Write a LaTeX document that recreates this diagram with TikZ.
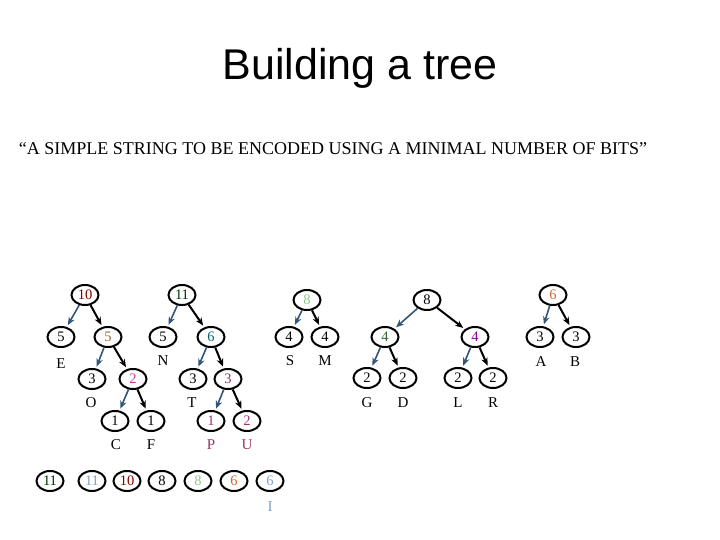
\documentclass[tikz,border=0pt]{standalone}
\usepackage{fontspec}
\setmainfont{Liberation Serif}
\newfontfamily\titlefont{Liberation Sans}
\usetikzlibrary{arrows.meta,shapes.geometric}

\definecolor{cDarkRed}{RGB}{128,0,0}
\definecolor{cOlive}{RGB}{153,102,51}
\definecolor{cPink}{RGB}{204,51,153}
\definecolor{cDarkGreen}{RGB}{0,51,0}
\definecolor{cTeal}{RGB}{0,102,102}
\definecolor{cPurple}{RGB}{153,51,102}
\definecolor{cLightGreen}{RGB}{140,200,140}
\definecolor{cGreen}{RGB}{51,102,51}
\definecolor{cMagenta}{RGB}{153,0,153}
\definecolor{cBrown}{RGB}{204,102,51}
\definecolor{cLightBlue}{RGB}{128,160,200}
\definecolor{cArrow}{RGB}{51,85,119}

\begin{document}
\begin{tikzpicture}[x=1pt,y=-1pt,
    cnt/.style={ellipse,draw,line width=2pt,minimum width=27pt,minimum height=20pt,inner sep=0pt,font=\fontsize{14.5}{14.5}\selectfont},
    sym/.style={font=\fontsize{15}{15}\selectfont},
    lft/.style={-{Stealth[length=8pt,width=6.5pt]},line width=1.6pt,draw=cArrow,fill=cArrow,shorten >=2pt},
    rgt/.style={-{Stealth[length=8pt,width=6.5pt]},line width=2pt,shorten >=2pt}]
  \useasboundingbox (0,0) rectangle (720,540);

  % Heading
  \node[font=\titlefont\fontsize{43}{43}\selectfont] (title) at (360,68) {Building a tree};
  \node[font=\fontsize{18}{18}\selectfont] (phrase) at (333,149) {``A SIMPLE STRING TO BE ENCODED USING A MINIMAL NUMBER OF BITS''};

  % Tree 10
  \node[cnt,text=cDarkRed] (r10) at (85,295) {10};
  \node[cnt] (e5) at (61,337) {5};
  \node[cnt,text=cOlive] (s5) at (108,337) {5};
  \node[cnt] (o3) at (92,379) {3};
  \node[cnt,text=cPink] (s2) at (133,379) {2};
  \node[cnt] (c1) at (115,421) {1};
  \node[cnt] (f1) at (151,421) {1};
  \node[sym] (le) at (61,364) {E};
  \node[sym] (lo) at (91,403) {O};
  \node[sym] (lc) at (116,445) {C};
  \node[sym] (lf) at (151,445) {F};
  \draw[lft] (r10) -- (e5);
  \draw[rgt] (r10) -- (s5);
  \draw[lft] (s5) -- (o3);
  \draw[rgt] (s5) -- (s2);
  \draw[lft] (s2) -- (c1);
  \draw[rgt] (s2) -- (f1);

  % Tree 11
  \node[cnt,text=cDarkGreen] (r11) at (182,295) {11};
  \node[cnt] (n5) at (163,337) {5};
  \node[cnt,text=cTeal] (s6) at (211,337) {6};
  \node[cnt] (t3) at (193,379) {3};
  \node[cnt,text=cPurple] (s3) at (228,379) {3};
  \node[cnt,text=cPurple] (p1) at (211,421) {1};
  \node[cnt,text=cPurple] (u2) at (247,421) {2};
  \node[sym] (ln) at (163,361) {N};
  \node[sym] (lt) at (192,403) {T};
  \node[sym,text=cPurple] (lp) at (211,445) {P};
  \node[sym,text=cPurple] (lu) at (247,445) {U};
  \draw[lft] (r11) -- (n5);
  \draw[rgt] (r11) -- (s6);
  \draw[lft] (s6) -- (t3);
  \draw[rgt] (s6) -- (s3);
  \draw[lft] (s3) -- (p1);
  \draw[rgt] (s3) -- (u2);

  % Tree 8 (S, M)
  \node[cnt,text=cLightGreen] (r8a) at (307,300) {8};
  \node[cnt] (s4) at (289,337) {4};
  \node[cnt] (m4) at (325,337) {4};
  \node[sym] (ls) at (290,361) {S};
  \node[sym] (lm) at (325,361) {M};
  \draw[lft] (r8a) -- (s4);
  \draw[rgt] (r8a) -- (m4);

  % Tree 8 (G, D, L, R)
  \node[cnt] (r8b) at (427,300) {8};
  \node[cnt,text=cGreen] (g4) at (385,337) {4};
  \node[cnt,text=cMagenta] (m4b) at (475,337) {4};
  \node[cnt] (g2) at (367,378) {2};
  \node[cnt] (d2) at (403,378) {2};
  \node[cnt] (l2) at (458,378) {2};
  \node[cnt] (r2) at (493,378) {2};
  \node[sym] (lg) at (367,403) {G};
  \node[sym] (ld) at (403,403) {D};
  \node[sym] (ll) at (458,403) {L};
  \node[sym] (lr) at (493,403) {R};
  \draw[lft] (r8b) -- (g4);
  \draw[rgt] (r8b) -- (m4b);
  \draw[lft] (g4) -- (g2);
  \draw[rgt] (g4) -- (d2);
  \draw[lft] (m4b) -- (l2);
  \draw[rgt] (m4b) -- (r2);

  % Tree 6 (A, B)
  \node[cnt,text=cBrown] (r6) at (553,295) {6};
  \node[cnt] (a3) at (540,337) {3};
  \node[cnt] (b3) at (576,337) {3};
  \node[sym] (la) at (541,362) {A};
  \node[sym] (lb) at (575,362) {B};
  \draw[lft] (r6) -- (a3);
  \draw[rgt] (r6) -- (b3);

  % Queue of roots
  \node[cnt,text=cDarkGreen] (q1) at (50,481) {11};
  \node[cnt,text=cLightBlue] (q2) at (92,481) {11};
  \node[cnt,text=cDarkRed] (q3) at (127,481) {10};
  \node[cnt] (q4) at (162,481) {8};
  \node[cnt,text=cLightGreen] (q5) at (198,481) {8};
  \node[cnt,text=cBrown] (q6) at (234,481) {6};
  \node[cnt,text=cLightBlue] (q7) at (270,481) {6};
  \node[sym,text=cLightBlue] (li) at (270,507) {I};
\end{tikzpicture}
\end{document}
